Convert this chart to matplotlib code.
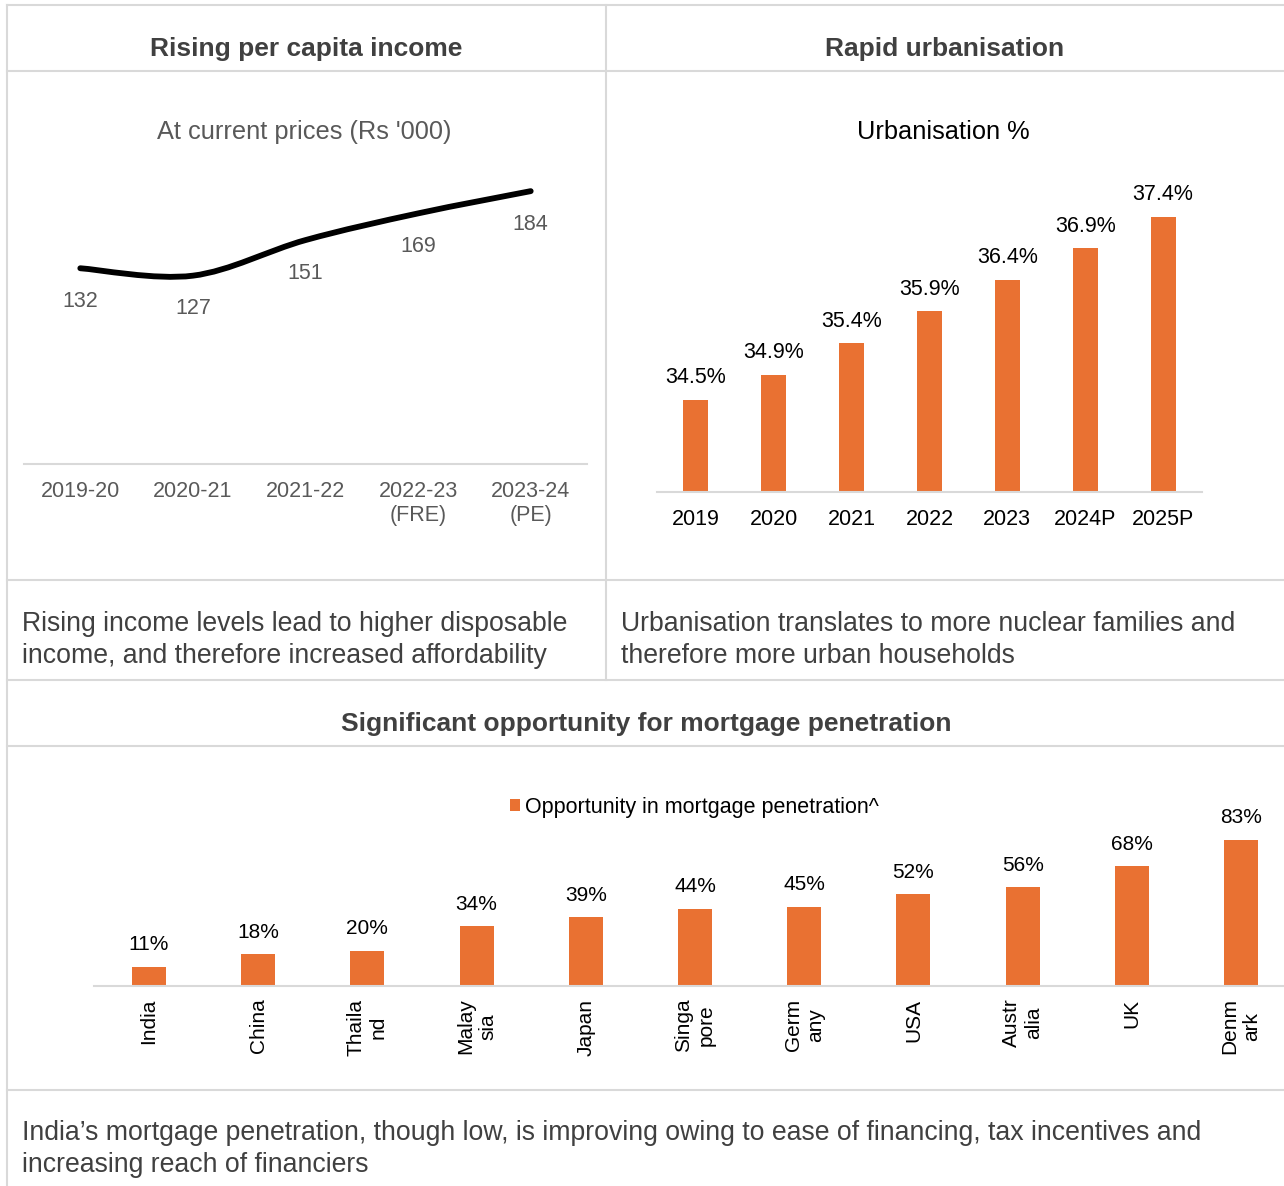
import matplotlib
matplotlib.use('Agg')
import matplotlib.pyplot as plt
from matplotlib.path import Path
from matplotlib.patches import PathPatch
from matplotlib.lines import Line2D

plt.rcParams['font.family'] = ['Liberation Sans', 'DejaVu Sans']

# per capita income, Rs '000
income_years = ['2019-20', '2020-21', '2021-22', '2022-23\n(FRE)', '2023-24\n(PE)']
income_vals = [132, 127, 151, 169, 184]

# urbanisation share, %
urban_years = ['2019', '2020', '2021', '2022', '2023', '2024P', '2025P']
urban_vals = [34.5, 34.9, 35.4, 35.9, 36.4, 36.9, 37.4]

# mortgage penetration opportunity, %
countries = ['India', 'China', 'Thaila\nnd', 'Malay\nsia', 'Japan', 'Singa\npore',
             'Germ\nany', 'USA', 'Austr\nalia', 'UK', 'Denm\nark']
mortgage_vals = [11, 18, 20, 34, 39, 44, 45, 52, 56, 68, 83]

W, H = 1284, 1186
ORANGE = '#E97132'
GRID = '#D9D9D9'
DARK = '#404040'
MID = '#595959'


def fx(px):
    return px / W


def fy(py):
    return 1 - py / H


def box(x0, y_top, x1, y_bot):
    return [fx(x0), fy(y_bot), (x1 - x0) / W, (y_bot - y_top) / H]


def smooth_path(xs, ys):
    # cubic bezier through every point, excel-style smoothing
    pts = list(zip(xs, ys))
    n = len(pts)
    verts = [pts[0]]
    codes = [Path.MOVETO]
    for i in range(n - 1):
        p0 = pts[i - 1] if i > 0 else pts[i]
        p1 = pts[i]
        p2 = pts[i + 1]
        p3 = pts[i + 2] if i + 2 < n else pts[i + 1]
        c1 = (p1[0] + (p2[0] - p0[0]) / 6, p1[1] + (p2[1] - p0[1]) / 6)
        c2 = (p2[0] - (p3[0] - p1[0]) / 6, p2[1] - (p3[1] - p1[1]) / 6)
        verts += [c1, c2, p2]
        codes += [Path.CURVE4] * 3
    return Path(verts, codes)


def clean_axis(ax):
    for s in ['top', 'left', 'right']:
        ax.spines[s].set_visible(False)
    ax.spines['bottom'].set_color(GRID)
    ax.spines['bottom'].set_linewidth(1.5)
    ax.set_yticks([])
    ax.tick_params(axis='x', length=0)
    ax.patch.set_alpha(0)


fig = plt.figure(figsize=(W / 100, H / 100), dpi=100)

# table frame
for y in [5, 71, 580, 680, 746, 1090]:
    fig.add_artist(Line2D([fx(7), fx(W)], [fy(y), fy(y)], color=GRID, lw=1.5))
fig.add_artist(Line2D([fx(7), fx(7)], [fy(5), fy(H)], color=GRID, lw=1.5))
fig.add_artist(Line2D([fx(606), fx(606)], [fy(5), fy(680)], color=GRID, lw=1.5))

# headers
hdr = dict(fontsize=19, fontweight='bold', color=DARK, ha='center', va='center')
fig.text(fx(306), fy(49), 'Rising per capita income', **hdr)
fig.text(fx(945), fy(49), 'Rapid urbanisation', **hdr)
fig.text(fx(646), fy(724), 'Significant opportunity for mortgage penetration', **hdr)

# notes under the charts
note = dict(fontsize=19.2, color=DARK, ha='left', va='center', linespacing=1.27)
fig.text(fx(22), fy(640), 'Rising income levels lead to higher disposable\n'
         'income, and therefore increased affordability', **note)
fig.text(fx(621), fy(640), 'Urbanisation translates to more nuclear families and\n'
         'therefore more urban households', **note)
fig.text(fx(22), fy(1149), 'India\u2019s mortgage penetration, though low, is improving owing to '
         'ease of financing, tax incentives and\nincreasing reach of financiers', **note)

# --- per capita income line
ax1 = fig.add_axes(box(24, 160, 587, 464))
clean_axis(ax1)
xs1 = list(range(len(income_vals)))
ax1.add_patch(PathPatch(smooth_path(xs1, income_vals), fill=False, ec='black',
                        lw=4.2, capstyle='round', joinstyle='round'))
ax1.set_xlim(-0.5, len(income_vals) - 0.5)
ax1.set_ylim(0, 205)
ax1.set_xticks(xs1)
ax1.set_xticklabels(income_years, fontsize=15.5, color=MID)
ax1.tick_params(axis='x', pad=12)
for x, v in zip(xs1, income_vals):
    ax1.annotate(str(v), (x, v), xytext=(0, -33), textcoords='offset pixels',
                 ha='center', va='center', fontsize=15.5, color=MID)
fig.text(fx(304), fy(132), "At current prices (Rs '000)", fontsize=18.3,
         color=MID, ha='center', va='center')

# --- urbanisation bars
ax2 = fig.add_axes(box(657, 160, 1202, 492))
clean_axis(ax2)
xs2 = list(range(len(urban_vals)))
ax2.bar(xs2, urban_vals, width=0.32, color=ORANGE)
ax2.set_xlim(-0.5, len(urban_vals) - 0.5)
ax2.set_ylim(33.04, 38.3)
ax2.set_xticks(xs2)
ax2.set_xticklabels(urban_years, fontsize=15.5, color='black')
ax2.tick_params(axis='x', pad=12)
for x, v in zip(xs2, urban_vals):
    ax2.annotate('{:.1f}%'.format(v), (x, v), xytext=(0, 22), textcoords='offset pixels',
                 ha='center', va='center', fontsize=15.5, color='black')
fig.text(fx(943), fy(132), 'Urbanisation %', fontsize=18.3, color='black',
         ha='center', va='center')

# --- mortgage penetration bars
ax3 = fig.add_axes(box(94.4, 800, 1295.6, 986))
clean_axis(ax3)
xs3 = list(range(len(mortgage_vals)))
bars = ax3.bar(xs3, mortgage_vals, width=0.31, color=ORANGE)
ax3.set_xlim(-0.5, len(mortgage_vals) - 0.5)
ax3.set_ylim(0, 105.7)
ax3.set_xticks(xs3)
ax3.set_xticklabels(countries, fontsize=15, color='black', rotation=90,
                    linespacing=1.2)
ax3.tick_params(axis='x', pad=9)
for x, v in zip(xs3, mortgage_vals):
    ax3.annotate('{}%'.format(v), (x, v), xytext=(0, 22), textcoords='offset pixels',
                 ha='center', va='center', fontsize=15, color='black')
ax3.legend([bars], ['Opportunity in mortgage penetration^'], loc='center left',
           bbox_to_anchor=(fx(510), fy(807)), bbox_transform=fig.transFigure,
           frameon=False, fontsize=15.5, handlelength=0.46, handleheight=0.46,
           handletextpad=0.25, borderpad=0, borderaxespad=0)

plt.savefig('out.png', dpi=100)
